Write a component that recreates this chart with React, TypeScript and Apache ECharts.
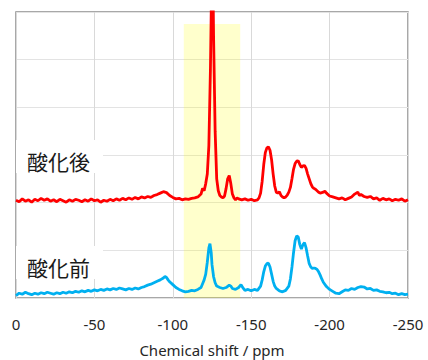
import React, { useEffect, useRef } from "react";
import * as echarts from "echarts";

// [chemical shift (ppm, positive magnitude), intensity]
const afterOxidation: [number, number][] = [
  [0, 2.05], [2, 2.02], [4, 2.08], [6, 2.03], [8, 2.06], [10, 2.01], [12, 2.07], [14, 2.04], [16, 2.09], [18, 2.05],
  [20, 2.08], [22, 2.03], [24, 2.06], [26, 2.02], [28, 2.07], [30, 2.04], [32, 2.01], [34, 2.06], [36, 2.03], [38, 2.07],
  [40, 2.05], [42, 2.02], [44, 2.06], [46, 2.03], [48, 2.08], [50, 2.04], [52, 2.06], [54, 2.01], [56, 2.05], [58, 2.03],
  [60, 2.07], [62, 2.04], [64, 2.08], [66, 2.05], [68, 2.09], [70, 2.06], [72, 2.1], [74, 2.07], [76, 2.11], [78, 2.08],
  [80, 2.12], [82, 2.1], [84, 2.13], [86, 2.11], [88, 2.15], [90, 2.17], [92, 2.2], [94, 2.23], [96, 2.21], [98, 2.15],
  [100, 2.11], [102, 2.08], [104, 2.09], [106, 2.06], [108, 2.08], [110, 2.07], [112, 2.09], [114, 2.1], [116, 2.12],
  [118, 2.18], [119, 2.3], [120, 2.25], [121, 2.4], [122, 2.6], [123, 3.2], [124, 4.8], [124.5, 6.0], [125, 7.2],
  [125.5, 7.0], [126, 5.5], [127, 3.5], [128, 2.5], [129, 2.25], [130, 2.15], [131, 2.12], [132, 2.1], [133, 2.14],
  [134, 2.3], [135, 2.5], [136, 2.57], [137, 2.4], [138, 2.18], [139, 2.1], [140, 2.06], [141, 2.1], [142, 2.08],
  [144, 2.06], [146, 2.08], [148, 2.05], [150, 2.07], [152, 2.04], [154, 2.06], [155, 2.1], [156, 2.2], [157, 2.45],
  [158, 2.8], [159, 3.05], [160, 3.15], [161, 3.17], [162, 3.1], [163, 2.9], [164, 2.6], [165, 2.35], [166, 2.22],
  [167, 2.2], [168, 2.23], [169, 2.15], [170, 2.12], [171, 2.1], [172, 2.12], [173, 2.16], [174, 2.22], [175, 2.32],
  [176, 2.5], [177, 2.7], [178, 2.82], [179, 2.87], [180, 2.88], [181, 2.8], [182, 2.74], [183, 2.77], [184, 2.78],
  [185, 2.72], [186, 2.6], [187, 2.5], [188, 2.4], [189, 2.33], [190, 2.3], [191, 2.28], [192, 2.25], [193, 2.22],
  [194, 2.2], [196, 2.22], [197, 2.24], [198, 2.2], [200, 2.14], [202, 2.12], [204, 2.1], [206, 2.08], [208, 2.1],
  [210, 2.06], [212, 2.09], [214, 2.12], [216, 2.18], [218, 2.22], [219, 2.15], [220, 2.17], [222, 2.13], [224, 2.11],
  [226, 2.13], [228, 2.08], [230, 2.1], [232, 2.05], [234, 2.09], [236, 2.06], [238, 2.08], [240, 2.04], [242, 2.07],
  [244, 2.05], [246, 2.08], [248, 2.03], [250, 2.06],
];

const beforeOxidation: [number, number][] = [
  [0, 0.05], [2, 0.1], [4, 0.08], [6, 0.12], [8, 0.09], [10, 0.07], [12, 0.1], [14, 0.08], [16, 0.11], [18, 0.09],
  [20, 0.12], [22, 0.1], [24, 0.08], [26, 0.11], [28, 0.09], [30, 0.12], [32, 0.1], [34, 0.13], [36, 0.11], [38, 0.14],
  [40, 0.12], [42, 0.15], [44, 0.13], [46, 0.16], [48, 0.14], [50, 0.17], [52, 0.15], [54, 0.18], [56, 0.16], [58, 0.19],
  [60, 0.17], [62, 0.2], [64, 0.18], [66, 0.21], [68, 0.19], [70, 0.17], [72, 0.2], [74, 0.18], [76, 0.21], [78, 0.19],
  [80, 0.22], [82, 0.24], [84, 0.27], [86, 0.29], [88, 0.32], [90, 0.35], [92, 0.38], [94, 0.42], [95, 0.45], [96, 0.43],
  [97, 0.38], [98, 0.34], [100, 0.28], [102, 0.22], [104, 0.18], [106, 0.15], [108, 0.13], [110, 0.14], [112, 0.16],
  [114, 0.15], [116, 0.18], [118, 0.22], [119, 0.3], [120, 0.38], [121, 0.5], [122, 0.75], [123, 1.05], [123.7, 1.14],
  [124.5, 0.95], [125, 0.7], [126, 0.45], [127, 0.32], [128, 0.25], [130, 0.22], [132, 0.2], [134, 0.22], [136, 0.27],
  [137, 0.25], [138, 0.2], [140, 0.18], [142, 0.22], [143.5, 0.28], [145, 0.2], [146, 0.16], [148, 0.18], [150, 0.15],
  [152, 0.18], [154, 0.16], [156, 0.25], [157, 0.38], [158, 0.55], [159, 0.67], [160, 0.72], [161, 0.73], [162, 0.65],
  [163, 0.5], [164, 0.35], [165, 0.25], [166, 0.2], [168, 0.15], [170, 0.13], [172, 0.16], [174, 0.25], [175, 0.4],
  [176, 0.65], [177, 0.95], [178, 1.2], [179, 1.3], [180, 1.28], [181, 1.12], [182, 1.03], [183, 1.12], [184, 1.16],
  [185, 1.05], [186, 0.88], [187, 0.72], [188, 0.65], [189, 0.62], [190, 0.63], [191, 0.62], [192, 0.6], [193, 0.55],
  [194, 0.48], [195, 0.4], [196, 0.33], [198, 0.24], [200, 0.18], [202, 0.14], [204, 0.1], [206, 0.09], [208, 0.13],
  [210, 0.17], [212, 0.16], [214, 0.2], [216, 0.18], [218, 0.22], [220, 0.24], [222, 0.23], [224, 0.19], [226, 0.2],
  [228, 0.16], [230, 0.17], [232, 0.14], [234, 0.13], [236, 0.11], [238, 0.12], [240, 0.09], [242, 0.1], [244, 0.07],
  [246, 0.09], [248, 0.07], [250, 0.08],
];

const bandRange = [-143, -107];
const bandTop = 5.75;
const xAxisName = "Chemical shift / ppm";
const labelAfter = "酸化後";
const labelBefore = "酸化前";

export default function App() {
  const ref = useRef<HTMLDivElement>(null);
  useEffect(() => {
    if (!ref.current) return;
    const chart = echarts.init(ref.current, undefined, { renderer: "svg" });
    const toXY = (arr: [number, number][]) => arr.map(([s, v]) => [-s, v]);
    const labelStyle = {
      fontFamily: "Noto Sans CJK JP",
      fontSize: 21,
      lineHeight: 21,
      fill: "#1a1a1a",
      backgroundColor: "#ffffff",
      padding: [10, 13, 2, 11],
    };
    chart.setOption({
      animation: false,
      grid: {
        left: 16,
        right: 20,
        top: 12,
        bottom: 62,
        show: true,
        borderColor: "#8c8c8c",
        borderWidth: 1.5,
        backgroundColor: "#ffffff",
        outerBoundsMode: "none",
        containLabel: false,
      },
      xAxis: {
        type: "value",
        min: -250,
        max: 0,
        interval: 50,
        inverse: true,
        name: xAxisName,
        nameLocation: "middle",
        nameGap: 43,
        nameTextStyle: { fontFamily: "Noto Sans", fontSize: 15, color: "#262626", lineHeight: 17 },
        axisLine: { show: false },
        axisTick: { show: false },
        axisLabel: { fontFamily: "Noto Sans", fontSize: 15, color: "#262626", margin: 18 },
        splitLine: { show: true, lineStyle: { color: "#d9d9d9", width: 1 } },
      },
      yAxis: {
        type: "value",
        min: 0,
        max: 6,
        interval: 1,
        axisLine: { show: false },
        axisTick: { show: false },
        axisLabel: { show: false },
        splitLine: { show: true, lineStyle: { color: "#e3e3e3", width: 1 } },
      },
      series: [
        {
          type: "line",
          data: toXY(beforeOxidation),
          showSymbol: false,
          symbol: "none",
          lineStyle: { color: "#00b0f0", width: 2.8 },
          z: 2,
        },
        {
          type: "line",
          data: toXY(afterOxidation),
          showSymbol: false,
          symbol: "none",
          lineStyle: { color: "#ff0000", width: 2.8 },
          z: 3,
        },
        {
          type: "line",
          data: [],
          z: 10,
          silent: true,
          markArea: {
            silent: true,
            itemStyle: { color: "rgba(255,255,0,0.2)" },
            data: [[{ xAxis: bandRange[0], yAxis: 0 }, { xAxis: bandRange[1], yAxis: bandTop }]],
          },
        },
      ],
      graphic: [
        { type: "text", left: 16, top: 140, z: 20, style: { ...labelStyle, text: labelAfter } },
        { type: "text", left: 16, top: 246, z: 20, style: { ...labelStyle, text: labelBefore } },
      ],
    });
    return () => chart.dispose();
  }, []);
  return (
    <div
      ref={ref}
      style={{ position: "absolute", left: 0, top: 0, width: 428, height: 360, background: "#fff" }}
    />
  );
}
